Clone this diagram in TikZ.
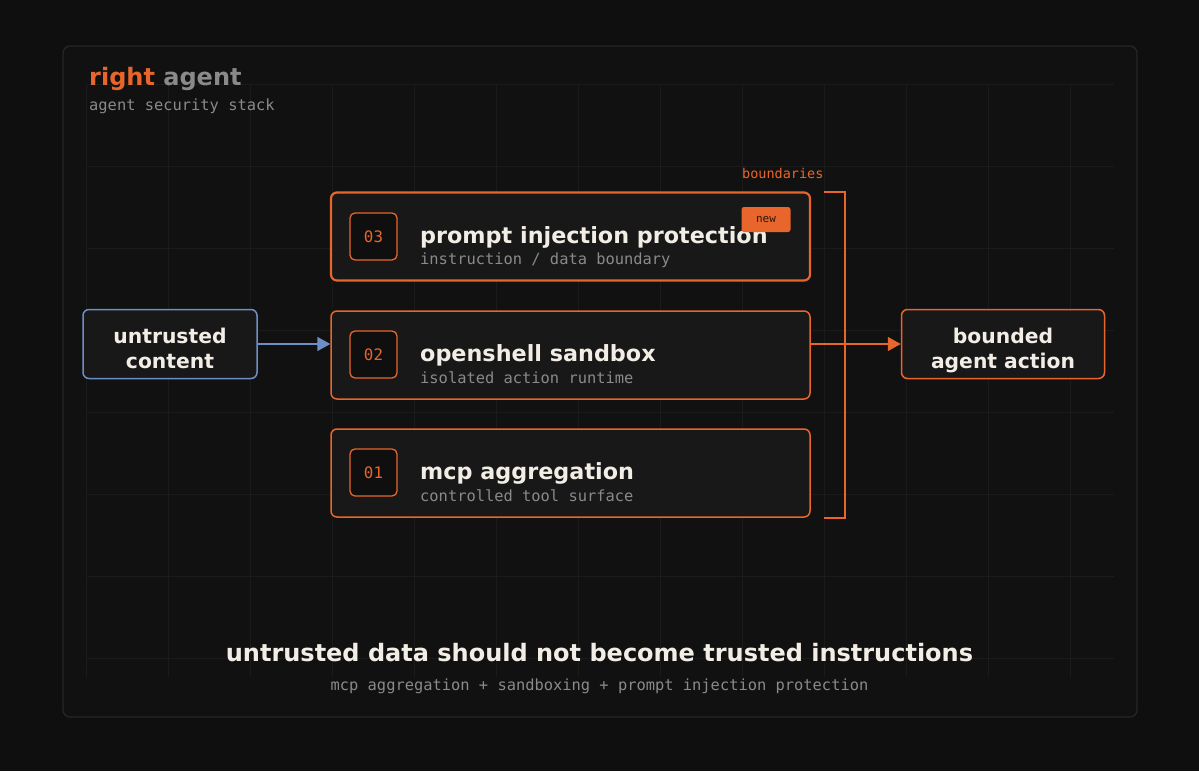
\documentclass[tikz,border=0pt]{standalone}
\usepackage{fontspec}
\setmainfont{DejaVu Sans}
\newfontfamily\monofont{DejaVu Sans Mono}
\usetikzlibrary{arrows.meta}
\definecolor{bg}{HTML}{0F0F0F}
\definecolor{panel}{HTML}{111111}
\definecolor{framec}{HTML}{262626}
\definecolor{gridc}{HTML}{1B1B1B}
\definecolor{cardc}{HTML}{181818}
\definecolor{orng}{HTML}{E8662C}
\definecolor{blu}{HTML}{6D8FC6}
\definecolor{txt}{HTML}{F2EEE6}
\definecolor{mut}{HTML}{8A8A8A}
\definecolor{badgetxt}{HTML}{2A160C}
\tikzset{
  cardbox/.style={draw=orng, fill=cardc, rounded corners=6pt, line width=1.5pt, minimum width=479pt, minimum height=88pt, inner sep=0pt},
  numbox/.style={draw=orng, fill=bg, rounded corners=5pt, line width=1.3pt, minimum width=47pt, minimum height=47pt, inner sep=0pt, text=orng, font=\monofont\fontsize{15.8}{17}\selectfont},
  cardtitle/.style={anchor=base west, inner sep=0pt, text=txt, font=\bfseries\fontsize{22.3}{26}\selectfont},
  cardsub/.style={anchor=base west, inner sep=0pt, text=mut, font=\monofont\fontsize{15.4}{17}\selectfont},
  endbox/.style={fill=cardc, rounded corners=6pt, line width=1.5pt, inner sep=0pt},
  endtext/.style={anchor=base, inner sep=0pt, text=txt, font=\bfseries\fontsize{20.3}{25}\selectfont},
}
\begin{document}
\begin{tikzpicture}[x=1pt,y=-1pt]
\fill[bg] (0,0) rectangle (1199,771);
\useasboundingbox (0,0) rectangle (1199,771);
% frame
\draw[framec, fill=panel, rounded corners=7pt, line width=1.3pt] (63,46) rectangle (1137,717);
% grid
\foreach \x in {86,168,...,1070} \draw[gridc, line width=0.9pt] (\x,84) -- (\x,677);
\foreach \y in {84,166,...,660} \draw[gridc, line width=0.9pt] (86,\y) -- (1114,\y);
% title
\node[anchor=base west, inner sep=0pt, font=\bfseries\fontsize{24}{28}\selectfont] (title) at (89,85) {\textcolor{orng}{right} \textcolor{mut}{agent}};
\node[anchor=base west, inner sep=0pt, text=mut, font=\monofont\fontsize{15.4}{17}\selectfont] (subtitle) at (89,110) {agent security stack};
% cards
\node[cardbox, line width=2.2pt] (c3) at (570.5,236.5) {};
\node[cardbox] (c2) at (570.5,355) {};
\node[cardbox] (c1) at (570.5,473) {};
\node[numbox] (n3) at (373.5,236.5) {03};
\node[numbox] (n2) at (373.5,354.5) {02};
\node[numbox] (n1) at (373.5,472.5) {01};
\node[cardtitle] (t3) at (420,243) {prompt injection protection};
\node[cardsub] (s3) at (420,264) {instruction / data boundary};
\node[cardtitle] (t2) at (420,361) {openshell sandbox};
\node[cardsub] (s2) at (420,383) {isolated action runtime};
\node[cardtitle] (t1) at (420,479) {mcp aggregation};
\node[cardsub] (s1) at (420,501) {controlled tool surface};
\node[fill=orng, rounded corners=2.5pt, minimum width=49pt, minimum height=25pt, inner sep=0pt, text=badgetxt, font=\monofont\fontsize{11}{13}\selectfont] (badge) at (766,219.5) {new};
% side boxes
\node[endbox, draw=blu, minimum width=174pt, minimum height=69pt] (unt) at (170,344) {};
\node[endtext] (untA) at (170,343) {untrusted};
\node[endtext] (untB) at (170,368) {content};
\node[endbox, draw=orng, minimum width=203pt, minimum height=69pt] (bnd) at (1003,344) {};
\node[endtext] (bndA) at (1003,343) {bounded};
\node[endtext] (bndB) at (1003,368) {agent action};
% bracket
\coordinate (bt) at (824,192);
\coordinate (bb) at (824,518);
\coordinate (bx) at (845,192);
\draw[orng, line width=1.5pt] (bt) -- (bx) -- (bx |- bb) -- (bb);
\node[anchor=base west, inner sep=0pt, text=orng, font=\monofont\fontsize{13.5}{15}\selectfont] (blabel) at (742,178) {boundaries};
% arrows
\draw[blu, line width=1.5pt, -{Triangle[length=13pt,width=14pt]}] (unt.east) -- (unt.east -| c2.west);
\draw[orng, line width=1.5pt, -{Triangle[length=13pt,width=14pt]}] (c2.east |- bnd.west) -- (bnd.west);
% footer
\node[anchor=base, inner sep=0pt, text=txt, font=\bfseries\fontsize{24}{28}\selectfont] (foot) at (599.5,661) {untrusted data should not become trusted instructions};
\node[anchor=base, inner sep=0pt, text=mut, font=\monofont\fontsize{15.4}{17}\selectfont] (footsub) at (599.5,690) {mcp aggregation + sandboxing + prompt injection protection};
\end{tikzpicture}
\end{document}
